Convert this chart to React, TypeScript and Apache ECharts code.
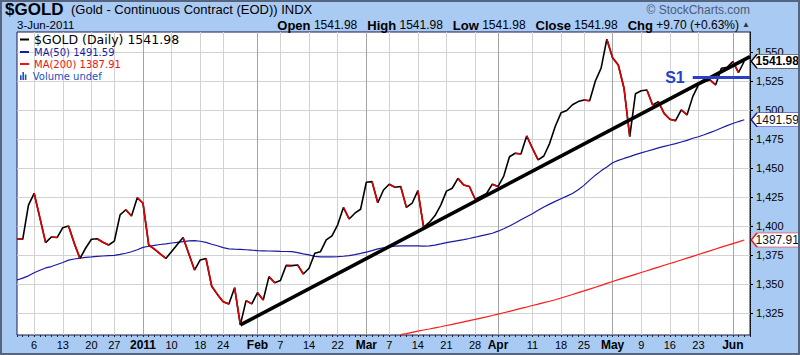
import React, { useEffect, useRef } from "react";
import * as echarts from "echarts";

// ---------- data ----------
const dates: string[] = [
  "2010-12-01","2010-12-02","2010-12-03","2010-12-06","2010-12-07","2010-12-08","2010-12-09","2010-12-10",
  "2010-12-13","2010-12-14","2010-12-15","2010-12-16","2010-12-17","2010-12-20","2010-12-21","2010-12-22",
  "2010-12-23","2010-12-27","2010-12-28","2010-12-29","2010-12-30","2010-12-31",
  "2011-01-03","2011-01-04","2011-01-05","2011-01-06","2011-01-07","2011-01-10","2011-01-11","2011-01-12",
  "2011-01-13","2011-01-14","2011-01-18","2011-01-19","2011-01-20","2011-01-21","2011-01-24","2011-01-25",
  "2011-01-26","2011-01-27","2011-01-28","2011-01-31",
  "2011-02-01","2011-02-02","2011-02-03","2011-02-04","2011-02-07","2011-02-08","2011-02-09","2011-02-10",
  "2011-02-11","2011-02-14","2011-02-15","2011-02-16","2011-02-17","2011-02-18","2011-02-22","2011-02-23",
  "2011-02-24","2011-02-25","2011-02-28",
  "2011-03-01","2011-03-02","2011-03-03","2011-03-04","2011-03-07","2011-03-08","2011-03-09","2011-03-10",
  "2011-03-11","2011-03-14","2011-03-15","2011-03-16","2011-03-17","2011-03-18","2011-03-21","2011-03-22",
  "2011-03-23","2011-03-24","2011-03-25","2011-03-28","2011-03-29","2011-03-30","2011-03-31",
  "2011-04-01","2011-04-04","2011-04-05","2011-04-06","2011-04-07","2011-04-08","2011-04-11","2011-04-12",
  "2011-04-13","2011-04-14","2011-04-15","2011-04-18","2011-04-19","2011-04-20","2011-04-21","2011-04-25",
  "2011-04-26","2011-04-27","2011-04-28","2011-04-29",
  "2011-05-02","2011-05-03","2011-05-04","2011-05-05","2011-05-06","2011-05-09","2011-05-10","2011-05-11",
  "2011-05-12","2011-05-13","2011-05-16","2011-05-17","2011-05-18","2011-05-19","2011-05-20","2011-05-23",
  "2011-05-24","2011-05-25","2011-05-26","2011-05-27","2011-05-31",
  "2011-06-01","2011-06-02","2011-06-03",
];

const closes: number[] = [
  1389.0, 1388.5, 1418.0, 1428.0, 1407.0, 1385.6, 1390.5, 1390.0,
  1398.5, 1400.0, 1385.0, 1372.0, 1381.0, 1388.5, 1389.0, 1386.0,
  1383.6, 1387.0, 1409.5, 1414.0, 1408.6, 1424.4,
  1419.6, 1383.6, 1380.0, 1375.9, 1372.0, 1378.0, 1384.0, 1390.0,
  1376.0, 1362.0, 1370.7, 1372.0, 1348.0, 1341.0, 1334.7, 1332.8,
  1346.8, 1314.7, 1335.6, 1332.8,
  1342.5, 1336.2, 1356.3, 1351.1, 1353.0, 1366.0, 1365.8, 1366.4,
  1358.6, 1363.5, 1376.4, 1377.8, 1388.0, 1391.4, 1401.0, 1416.0,
  1406.0, 1411.0, 1414.4,
  1437.7, 1438.2, 1420.0, 1431.0, 1436.0, 1433.4, 1434.0, 1416.0,
  1419.6, 1430.4, 1398.9, 1403.0, 1409.0, 1418.0, 1430.0, 1432.5,
  1441.0, 1435.3, 1434.0, 1423.0, 1425.5, 1428.0, 1436.0,
  1434.0, 1443.0, 1459.7, 1462.7, 1462.0, 1477.6, 1467.0, 1457.0,
  1460.3, 1471.0, 1486.0, 1497.5, 1499.5, 1504.5, 1507.2, 1508.6,
  1508.0, 1525.0, 1536.0, 1561.0,
  1545.0, 1538.8, 1518.7, 1477.0, 1514.0, 1516.5, 1517.2, 1504.3,
  1507.2, 1497.0, 1492.0, 1490.8, 1500.0, 1495.7, 1511.5, 1521.6,
  1524.0, 1525.9, 1521.6, 1536.0, 1536.8,
  1541.6, 1532.28, 1541.98,
];

const ma50: number[] = [
  1353.4, 1355.0, 1357.0, 1359.7, 1361.8, 1363.8, 1365.0, 1366.8,
  1368.5, 1370.5, 1371.5, 1372.3, 1372.9, 1373.3, 1373.8, 1374.1,
  1374.4, 1374.7, 1375.5, 1376.5, 1377.8, 1379.5,
  1381.5, 1382.5, 1383.3, 1384.0, 1384.6, 1385.3, 1385.9, 1386.5,
  1387.1, 1387.4, 1386.8, 1385.8, 1384.2, 1382.9, 1381.3, 1380.3,
  1380.0, 1379.8, 1379.5, 1379.1,
  1378.8, 1378.6, 1378.4, 1378.3, 1378.1, 1378.0, 1377.8, 1377.0,
  1376.0, 1375.1, 1373.8, 1373.4, 1373.3, 1373.3, 1373.5, 1373.9,
  1374.5, 1375.3, 1376.3,
  1377.5, 1378.7, 1380.2, 1381.2, 1381.9, 1382.6, 1382.9, 1382.9,
  1382.8, 1382.8, 1382.7, 1382.8, 1383.5, 1384.5, 1385.6, 1386.5,
  1387.4, 1388.2, 1389.2, 1390.3, 1391.5, 1392.6, 1393.7,
  1395.5, 1397.6, 1400.0, 1402.5, 1405.3, 1408.0, 1410.6, 1413.5,
  1416.3, 1418.8, 1421.2, 1423.5, 1425.7, 1428.0, 1431.3, 1435.0,
  1439.5, 1443.8, 1447.5, 1450.8,
  1454.5, 1456.5, 1458.2, 1459.8, 1461.5, 1463.0, 1464.4, 1465.8,
  1467.3, 1468.6, 1469.8, 1471.0, 1472.4, 1473.8, 1475.6, 1476.9,
  1478.6, 1480.5, 1482.3, 1484.4, 1486.5,
  1488.3, 1490.0, 1491.59,
];

// MA(200) only enters the visible range in March
const ma200Start = "2011-03-09";
const ma200: number[] = [
  1306.3, 1307.2, 1308.3, 1309.4, 1310.3, 1311.2, 1312.2, 1313.1,
  1314.2, 1315.1, 1316.2, 1317.3, 1318.4, 1319.4, 1320.5, 1321.6, 1322.8,
  1324.0, 1325.2, 1326.4, 1327.6, 1328.9, 1330.1, 1331.4, 1332.6,
  1333.9, 1335.1, 1336.4, 1337.9, 1339.4, 1340.9, 1342.5, 1344.0,
  1345.6, 1347.2, 1348.8, 1350.5,
  1352.1, 1353.7, 1355.2, 1356.7, 1358.3, 1359.9, 1361.4, 1363.0,
  1364.5, 1366.1, 1367.6, 1369.1, 1370.7, 1372.3, 1373.8, 1375.4,
  1377.0, 1378.5, 1380.1, 1381.7, 1383.2,
  1384.8, 1386.3, 1387.91,
];

const trendStart = { date: "2011-01-27", value: 1314.7 };
const trendEndValue = 1546.0; // at the right edge of the plot
const s1Start = "2011-05-20";
const s1Level = 1528.0;

const yTicks = [1325, 1350, 1375, 1400, 1425, 1450, 1475, 1500, 1525, 1550];

const xTickLabels: Record<string, string> = {
  "2010-12-06": "6", "2010-12-13": "13", "2010-12-20": "20", "2010-12-27": "27",
  "2011-01-03": "2011", "2011-01-10": "10", "2011-01-18": "18", "2011-01-24": "24",
  "2011-02-01": "Feb", "2011-02-07": "7", "2011-02-14": "14", "2011-02-22": "22",
  "2011-03-01": "Mar", "2011-03-07": "7", "2011-03-14": "14", "2011-03-21": "21", "2011-03-28": "28",
  "2011-04-01": "Apr", "2011-04-11": "11", "2011-04-18": "18", "2011-04-25": "25",
  "2011-05-02": "May", "2011-05-09": "9", "2011-05-16": "16", "2011-05-23": "23",
  "2011-06-01": "Jun",
};
const monthStarts = ["2011-01-03", "2011-02-01", "2011-03-01", "2011-04-01", "2011-05-02", "2011-06-01"];

const quoteOpen = 1541.98;
const quoteHigh = 1541.98;
const quoteLow = 1541.98;
const quoteClose = 1541.98;
const quoteChg = 9.7;
const quoteChgPct = 0.63;

// ---------- component ----------
const FONT = '"Liberation Sans", Arial, sans-serif';
const VFONT = '"DejaVu Sans", Verdana, sans-serif';
const TAG = "path://M0,7L6,0L50,0L50,14L6,14Z";

export default function App() {
  const ref = useRef<HTMLDivElement>(null);

  useEffect(() => {
    if (!ref.current) return;
    const chart = echarts.init(ref.current, undefined, { renderer: "svg" });

    const categories = [...dates, ""]; // one empty slot of right margin
    const last = dates.length - 1;
    const edge = categories.length - 1;
    const m200Idx = dates.indexOf(ma200Start);
    const ma200Full = dates.map((_, i) => (i < m200Idx ? null : ma200[i - m200Idx]));

    const redSegs: any[] = [];
    for (let i = 1; i < closes.length; i++) {
      if (closes[i] < closes[i - 1]) {
        redSegs.push({ coords: [[i - 1, closes[i - 1]], [i, closes[i]]] });
      }
    }

    const f2 = (v: number) => v.toFixed(2);
    const lastVals: Record<string, string> = {
      "$GOLD (Daily)": f2(closes[last]),
      "MA(50)": f2(ma50[last]),
      "MA(200)": f2(ma200[ma200.length - 1]),
    };

    const tag = (value: number, border: string, color: string, bold: boolean) => ({
      symbol: TAG,
      symbolSize: [48, 14],
      symbolOffset: [31, 0],
      silent: true,
      itemStyle: { color: "#fff", borderColor: border, borderWidth: 1 },
      label: {
        show: true,
        position: "inside",
        offset: [2, 0],
        formatter: () => f2(value),
        color,
        fontSize: 12,
        fontWeight: bold ? "bold" : "normal",
        fontFamily: FONT,
      },
      data: [{ coord: [dates[last], value], value }],
    });

    const option: any = {
      animation: false,
      backgroundColor: "#a9caf2",
      textStyle: { fontFamily: FONT },
      grid: {
        left: 17, right: 50, top: 32, bottom: 20,
        show: true, backgroundColor: "#ffffff", borderColor: "#1a1a50", borderWidth: 1,
      },
      legend: [
        {
          orient: "vertical",
          left: 20,
          top: 33,
          padding: 0,
          itemGap: 0,
          itemWidth: 9,
          itemHeight: 2,
          selectedMode: false,
          formatter: (name: string) => (lastVals[name] ? `${name} ${lastVals[name]}` : name),
          data: [
            { name: "$GOLD (Daily)", icon: "rect", itemStyle: { color: "#000" },
              textStyle: { fontSize: 12.5, color: "#000", fontFamily: VFONT, lineHeight: 13 } },
            { name: "MA(50)", icon: "rect", itemStyle: { color: "#1a1aa0" },
              textStyle: { fontSize: 10, color: "#1a1aa0", fontFamily: VFONT, lineHeight: 12 } },
            { name: "MA(200)", icon: "rect", itemStyle: { color: "#ee1111" },
              textStyle: { fontSize: 10, color: "#ee1111", fontFamily: VFONT, lineHeight: 12 } },
          ],
        },
        {
          orient: "vertical",
          left: 20,
          top: 70,
          padding: 0,
          itemWidth: 9,
          itemHeight: 8,
          selectedMode: false,
          data: [
            { name: "Volume undef", icon: "path://M0,4h2v6h-2z M3,0h2v10h-2z M6,3h2v7h-2z", itemStyle: { color: "#1f4fc0" },
              textStyle: { fontSize: 10, color: "#1f4fc0", fontFamily: VFONT, lineHeight: 12 } },
          ],
        },
      ],
      xAxis: [
        {
          type: "category",
          data: categories,
          boundaryGap: false,
          axisLine: { show: false },
          axisTick: { show: true, interval: 0, length: 2, lineStyle: { color: "#222" } },
          axisLabel: {
            interval: (_i: number, v: string) => v in xTickLabels,
            formatter: (v: string) => {
              const t = xTickLabels[v];
              if (!t) return "";
              return monthStarts.includes(v) ? `{b|${t}}` : t;
            },
            color: "#000",
            fontSize: 11,
            margin: 4,
            fontFamily: FONT,
            rich: { b: { fontWeight: "bold", fontSize: 12, color: "#000", fontFamily: FONT } },
          },
          splitLine: {
            show: true,
            interval: (_i: number, v: string) => v in xTickLabels && !monthStarts.includes(v),
            lineStyle: { color: "#d2d2d2", width: 1 },
          },
        },
        {
          type: "category",
          data: categories,
          boundaryGap: false,
          position: "bottom",
          axisLine: { show: false },
          axisTick: { show: false },
          axisLabel: { show: false },
          splitLine: {
            show: true,
            interval: (_i: number, v: string) => monthStarts.includes(v),
            lineStyle: { color: "#a4a4a4", width: 1 },
          },
        },
      ],
      yAxis: {
        type: "value",
        position: "right",
        min: 1306,
        max: 1567.2,
        axisLine: { show: true, lineStyle: { color: "#000", type: "dotted", width: 1 } },
        axisTick: { show: true, customValues: yTicks, length: 3, lineStyle: { color: "#000" } },
        axisLabel: { customValues: yTicks, color: "#000", fontSize: 11, margin: 6, fontFamily: FONT },
        splitLine: { show: true, lineStyle: { color: "#d2d2d2", width: 1 } },
      },
      series: [
        {
          name: "MA(200)",
          type: "line",
          data: ma200Full,
          showSymbol: false,
          clip: false,
          lineStyle: { color: "#ff1a1a", width: 1.2 },
          itemStyle: { color: "#ff1a1a" },
          z: 2,
          markPoint: tag(ma200[ma200.length - 1], "#ee1111", "#111", false),
        },
        {
          name: "MA(50)",
          type: "line",
          data: ma50,
          showSymbol: false,
          clip: false,
          lineStyle: { color: "#1a1aa0", width: 1.2 },
          itemStyle: { color: "#1a1aa0" },
          z: 2,
          markPoint: tag(ma50[last], "#1a1aa0", "#111", false),
        },
        {
          name: "$GOLD (Daily)",
          type: "line",
          data: closes,
          showSymbol: false,
          clip: false,
          lineStyle: { color: "#000", width: 1.6 },
          itemStyle: { color: "#000" },
          z: 3,
        },
        {
          type: "lines",
          coordinateSystem: "cartesian2d",
          data: redSegs,
          silent: true,
          lineStyle: { color: "#e00000", width: 1.6, opacity: 1, curveness: 0 },
          z: 4,
        },
        {
          type: "lines",
          coordinateSystem: "cartesian2d",
          silent: true,
          data: [{ coords: [[dates.indexOf(trendStart.date), trendStart.value], [edge, trendEndValue]] }],
          lineStyle: { color: "#000", width: 3.6, opacity: 1, curveness: 0 },
          z: 5,
        },
        {
          type: "lines",
          coordinateSystem: "cartesian2d",
          silent: true,
          data: [{ coords: [[dates.indexOf(s1Start), s1Level], [edge, s1Level]] }],
          lineStyle: { color: "#2a3fc8", width: 3, opacity: 1, curveness: 0 },
          label: {
            show: true, position: "start", formatter: "S1", distance: 8,
            color: "#2a3fc8", fontSize: 16, fontWeight: "bold", fontFamily: FONT,
          },
          z: 5,
        },
        {
          name: "$GOLD tag",
          type: "line",
          data: [],
          z: 6,
          markPoint: tag(closes[last], "#000", "#000", true),
        },
        {
          name: "Volume undef",
          type: "bar",
          data: [],
          itemStyle: { color: "#1f4fc0" },
        },
      ],
      graphic: [
        {
          type: "rect", silent: true, z: 100,
          shape: { x: 1, y: 1, width: 798, height: 353 },
          style: { fill: "none", stroke: "#56657f", lineWidth: 2 },
        },
        {
          type: "text", x: 5, y: 9, silent: true,
          style: { text: "$GOLD", fontSize: 17, fontWeight: "bold", fontFamily: FONT, fill: "#000", verticalAlign: "middle" },
        },
        {
          type: "text", x: 71, y: 9, silent: true,
          style: { text: "(Gold - Continuous Contract (EOD)) INDX", fontSize: 13, fontFamily: FONT, fill: "#000", verticalAlign: "middle" },
        },
        {
          type: "text", x: 17, y: 25, silent: true,
          style: { text: "3-Jun-2011", fontSize: 11.5, fontFamily: FONT, fill: "#000", verticalAlign: "middle" },
        },
        {
          type: "text", x: 750, y: 10, silent: true,
          style: { text: "\u00a9 StockCharts.com", fontSize: 12, fontFamily: FONT, fill: "#4c5b74", align: "right", verticalAlign: "middle" },
        },
        {
          type: "text", x: 739, y: 25, silent: true,
          style: {
            text:
              `{l|Open} {v|${f2(quoteOpen)}}   {l|High} {v|${f2(quoteHigh)}}   {l|Low} {v|${f2(quoteLow)}}   ` +
              `{l|Close} {v|${f2(quoteClose)}}   {l|Chg} {v|+${f2(quoteChg)} (+${f2(quoteChgPct)}%)}`,
            align: "right",
            verticalAlign: "middle",
            rich: {
              l: { fontSize: 13, fontWeight: "bold", fontFamily: FONT, fill: "#000" },
              v: { fontSize: 12, fontFamily: FONT, fill: "#000" },
            },
          },
        },
        {
          type: "text", x: 742, y: 24, silent: true,
          style: { text: "\u25b2", fontSize: 8, fontFamily: FONT, fill: "#333", verticalAlign: "middle" },
        },
      ],
    };

    chart.setOption(option);
    return () => chart.dispose();
  }, []);

  return (
    <div
      ref={ref}
      style={{ position: "absolute", left: 0, top: 0, width: 800, height: 355 }}
    />
  );
}
